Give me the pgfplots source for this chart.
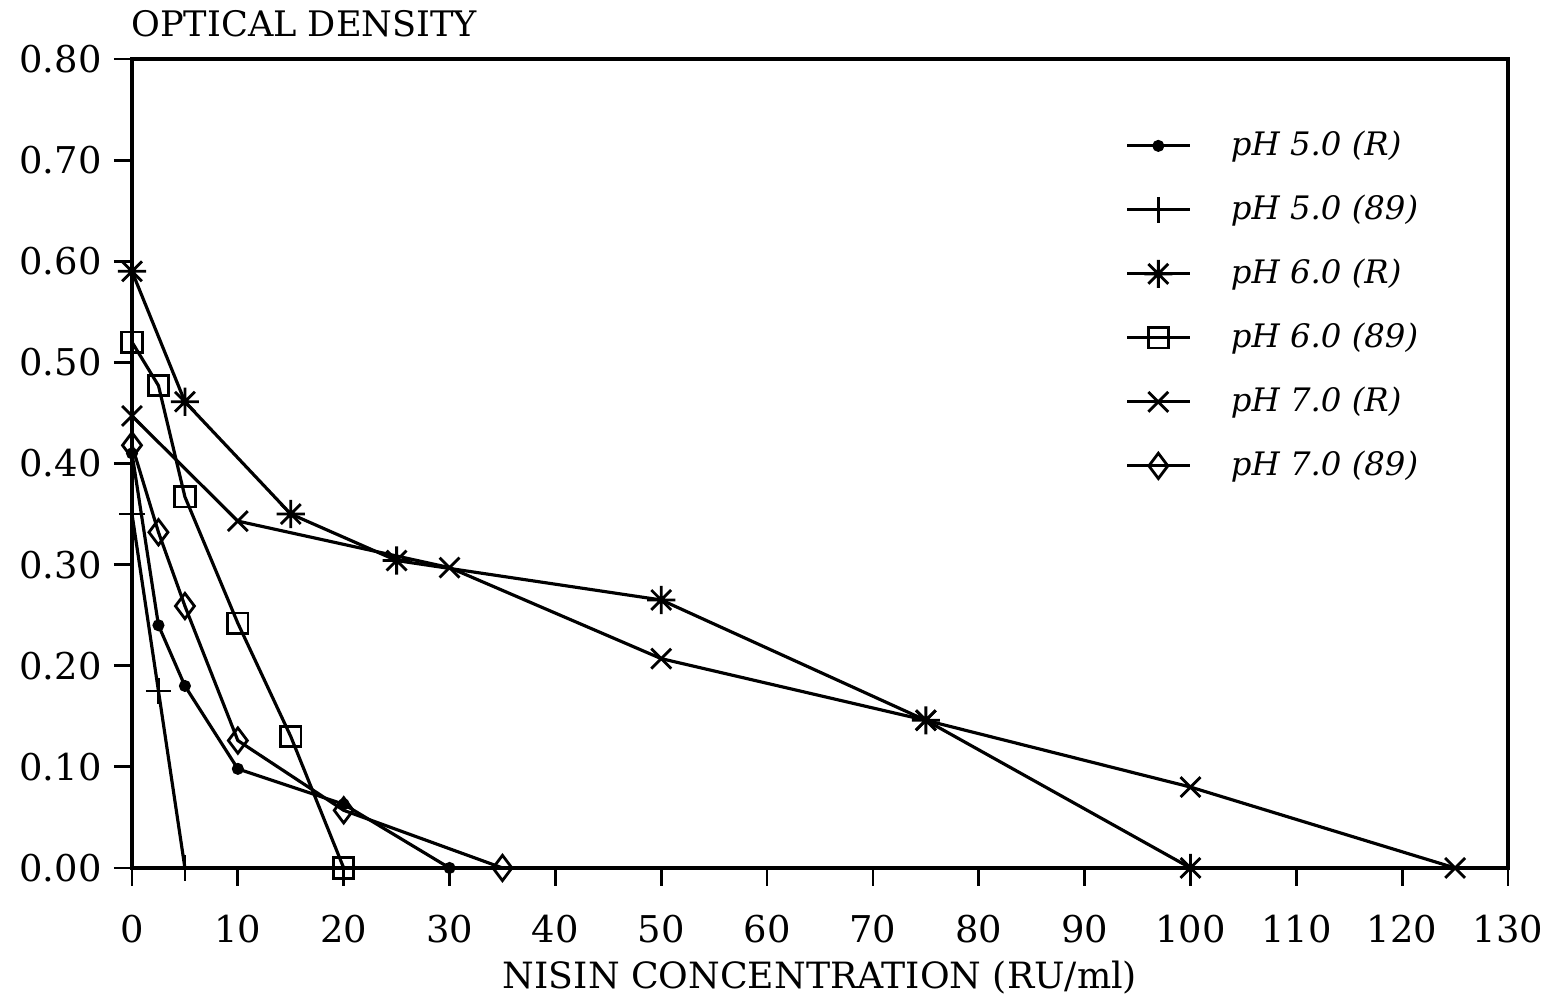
\documentclass[border=0pt]{standalone}
\usepackage{pgfplots}
\pgfplotsset{compat=1.18}
\usepackage{fontspec}
\setmainfont{DejaVu Serif}

\pgfdeclareplotmark{ast8}{%
 \pgfpathmoveto{\pgfqpoint{0pt}{\pgfplotmarksize}}\pgfpathlineto{\pgfqpoint{0pt}{-\pgfplotmarksize}}%
 \pgfpathmoveto{\pgfqpoint{\pgfplotmarksize}{0pt}}\pgfpathlineto{\pgfqpoint{-\pgfplotmarksize}{0pt}}%
 \pgfpathmoveto{\pgfqpoint{0.707\pgfplotmarksize}{0.707\pgfplotmarksize}}\pgfpathlineto{\pgfqpoint{-0.707\pgfplotmarksize}{-0.707\pgfplotmarksize}}%
 \pgfpathmoveto{\pgfqpoint{0.707\pgfplotmarksize}{-0.707\pgfplotmarksize}}\pgfpathlineto{\pgfqpoint{-0.707\pgfplotmarksize}{0.707\pgfplotmarksize}}%
 \pgfusepathqstroke}

\begin{document}
\begin{tikzpicture}
\begin{axis}[
  scale only axis,
  width=13.76cm, height=8.09cm,
  xmin=0, xmax=130, ymin=0, ymax=0.8,
  xtick={0,10,...,130},
  ytick={0,0.1,...,0.8},
  /pgf/number format/assume math mode=true,
  yticklabel style={/pgf/number format/.cd, fixed, fixed zerofill, precision=2},
  xticklabel style={yshift=-0.17cm},
  tick label style={font=\fontsize{10.5}{12}\selectfont},
  tick align=outside,
  xtick pos=bottom, ytick pos=left,
  major tick length=0.18cm,
  tick style={black, line width=0.8pt},
  axis line style={line width=1pt},
  xlabel={NISIN CONCENTRATION (RU/ml)},
  xlabel style={font=\fontsize{10.3}{12}\selectfont, yshift=0.06cm},
  every axis plot/.append style={black, line width=0.9pt, mark options={solid, line width=0.8pt}},
  legend image code/.code={\draw[mark repeat=2, mark phase=2] plot coordinates {(0cm,0cm) (0.31cm,0cm) (0.63cm,0cm)}; \path (0.95cm,0cm);},
  legend style={at={(0.7217,0.933)}, anchor=north west, draw=none, fill=none, inner sep=0pt,
    font=\itshape\fontsize{9.2}{11}\selectfont,
    nodes={minimum height=0.64cm, inner ysep=0pt}},
  legend cell align=left,
  clip=false,
]
\addplot[mark=*, mark size=1.3pt] coordinates {(0,0.41) (2.5,0.24) (5,0.18) (10,0.098) (20,0.063) (30,0)};
\addlegendentry{pH 5.0 (R)}
\addplot[mark=+, mark size=3.6pt] coordinates {(0,0.35) (2.5,0.175) (5,0)};
\addlegendentry{pH 5.0 (89)}
\addplot[mark=ast8, mark size=4pt] coordinates {(0,0.59) (5,0.461) (15,0.35) (25,0.304) (50,0.265) (75,0.146) (100,0)};
\addlegendentry{pH 6.0 (R)}
\addplot[mark=square, mark size=2.9pt] coordinates {(0,0.52) (2.5,0.477) (5,0.367) (10,0.242) (15,0.13) (20,0)};
\addlegendentry{pH 6.0 (89)}
\addplot[mark=x, mark size=4pt] coordinates {(0,0.447) (10,0.343) (30,0.297) (50,0.207) (75,0.146) (100,0.08) (125,0)};
\addlegendentry{pH 7.0 (R)}
\addplot[mark=diamond, mark size=3.6pt] coordinates {(0,0.418) (2.5,0.332) (5,0.259) (10,0.126) (20,0.057) (35,0)};
\addlegendentry{pH 7.0 (89)}
\coordinate (bl) at (rel axis cs:0,0);
\coordinate (tr) at (rel axis cs:1,1);
\node[anchor=south west, font=\fontsize{10}{12}\selectfont, xshift=-0.13cm, yshift=0.1cm] at (rel axis cs:0,1) {OPTICAL DENSITY};
\end{axis}
\pgfresetboundingbox
\path[use as bounding box] ([xshift=-1.32cm, yshift=-1.37cm]bl) rectangle ([xshift=0.48cm, yshift=0.59cm]tr);
\end{tikzpicture}
\end{document}
